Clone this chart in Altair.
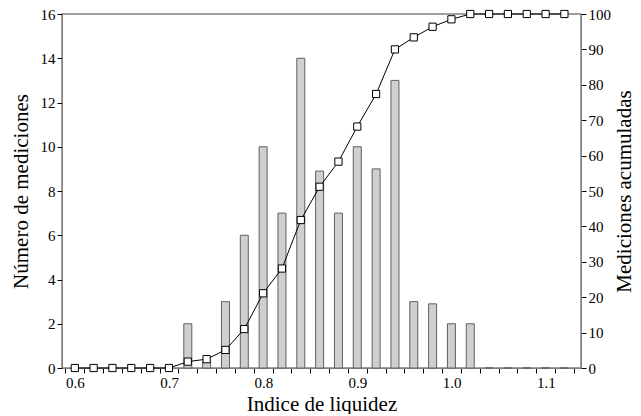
import altair as alt
import pandas as pd

# Liquidity index bin centres
indice = [0.60, 0.62, 0.64, 0.66, 0.68, 0.70, 0.72, 0.74, 0.76, 0.78, 0.80, 0.82, 0.84,
          0.86, 0.88, 0.90, 0.92, 0.94, 0.96, 0.98, 1.00, 1.02, 1.04, 1.06, 1.08, 1.10, 1.12]
# Number of measurements per bin (left axis)
mediciones = [0, 0, 0, 0, 0, 0, 2, 0.3, 3, 6, 10, 7, 14,
              8.9, 7, 10, 9, 13, 3, 2.9, 2, 2, 0, 0, 0, 0, 0]
# Cumulative measurements in % (right axis)
acumuladas = [0, 0, 0, 0, 0, 0, 1.8, 2.5, 5.1, 11.0, 21.1, 28.1, 41.8,
              51.2, 58.3, 68.2, 77.4, 90.0, 93.4, 96.4, 98.5, 100, 100, 100, 100, 100, 100]

# Axis tick positions (bin edges) for the x axis
x_ticks = [round(0.59 + 0.02 * i, 2) for i in range(28)]

df = pd.DataFrame({"x": indice, "n": mediciones, "c": acumuladas})

FONT = "Liberation Serif"
xdom = [0.5917, 1.1323]

x_enc = alt.X(
    "x:Q",
    scale=alt.Scale(domain=xdom, nice=False, zero=False),
    axis=alt.Axis(
        title="Indice de liquidez",
        values=x_ticks,
        labelExpr="(round((datum.value + 0.01) * 100) % 10 == 0) ? format(datum.value + 0.01, '.1f') : ''",
        labelOffset=9.6,
        labelFlush=False,
        labelOverlap=False,
        grid=False,
        tickSize=5,
        titlePadding=3,
    ),
)

bars = alt.Chart(df).mark_bar(
    fill="#cfcfcf", stroke="#606060", strokeWidth=1, width=8
).encode(
    x=x_enc,
    y=alt.Y(
        "n:Q",
        scale=alt.Scale(domain=[0, 16], nice=False),
        axis=alt.Axis(
            title="Número de mediciones",
            values=list(range(0, 17, 2)),
            grid=False,
            tickSize=5,
            titlePadding=9,
        ),
    ),
)

y_right = alt.Y(
    "c:Q",
    scale=alt.Scale(domain=[0, 100], nice=False),
    axis=alt.Axis(
        title="Mediciones acumuladas",
        orient="right",
        values=list(range(0, 101, 10)),
        grid=False,
        tickSize=5,
        titleAngle=270,
        titleBaseline="top",
        titlePadding=3,
    ),
)

line = alt.Chart(df).mark_line(color="#000000", strokeWidth=1).encode(
    x=x_enc, y=y_right
)

points = alt.Chart(df).mark_point(
    shape="square", filled=True, fill="#ffffff", stroke="#000000",
    strokeWidth=1, size=52, opacity=1
).encode(x=x_enc, y=y_right)

right = alt.layer(line, points)

chart = alt.layer(bars, right).resolve_scale(y="independent").properties(
    width=519, height=354, background="#ffffff",
    padding={"left": 2, "top": -1, "right": -3, "bottom": 0}
).configure_axis(
    labelFont=FONT, titleFont=FONT, labelFontSize=15, titleFontSize=21,
    titleFontWeight="normal", labelColor="#000000", titleColor="#000000",
    domainColor="#808080", tickColor="#000000", labelPadding=2,
    labelOverlap=False,
).configure_view(stroke="#808080", strokeWidth=1.5)

chart.save("out.html", embed_options={"renderer": "svg", "actions": False})
